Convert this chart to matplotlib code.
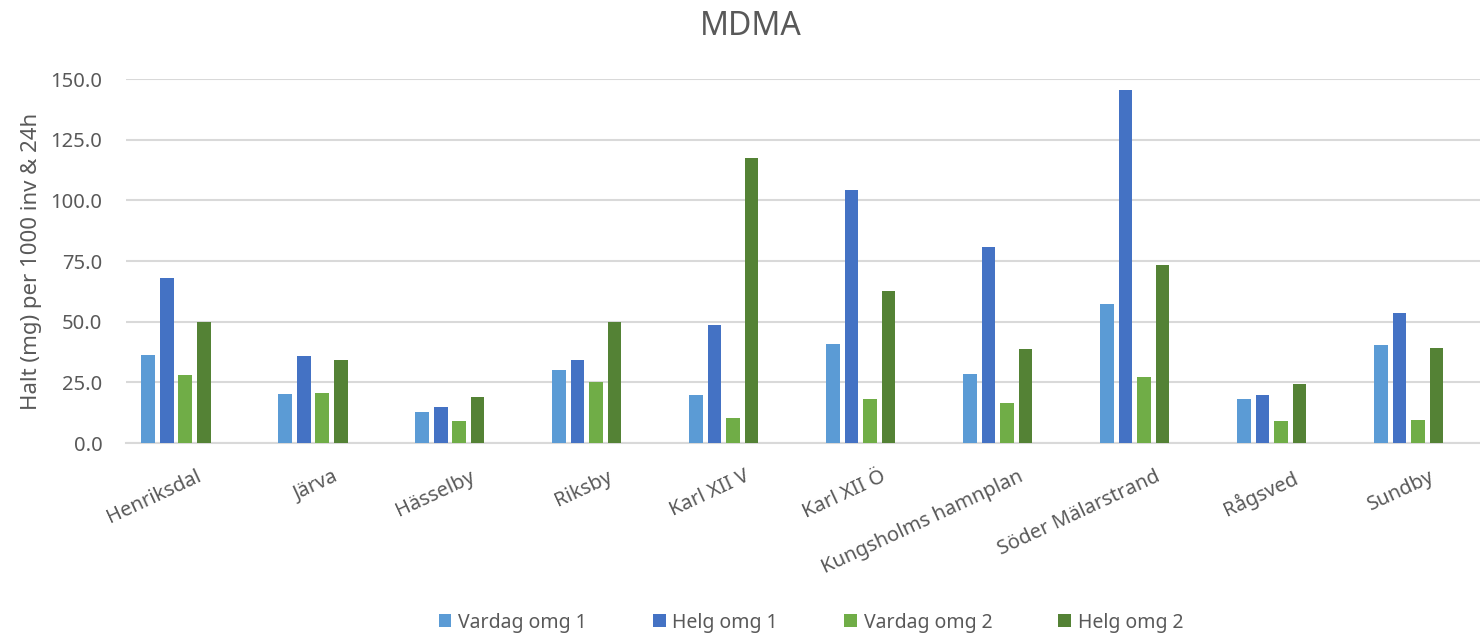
import numpy as np
import matplotlib
matplotlib.use('Agg')
import matplotlib.pyplot as plt
from matplotlib.transforms import ScaledTranslation

plt.rcParams['font.family'] = ['Noto Sans', 'DejaVu Sans']

stations = ['Henriksdal', 'Järva', 'Hässelby', 'Riksby', 'Karl XII V',
            'Karl XII Ö', 'Kungsholms hamnplan', 'Söder Mälarstrand',
            'Rågsved', 'Sundby']
series_names = ['Vardag omg 1', 'Helg omg 1', 'Vardag omg 2', 'Helg omg 2']
vardag1 = [36.4, 20.2, 12.8, 30.2, 19.6, 40.8, 28.6, 57.1, 18.0, 40.2]
helg1 = [68.2, 36.0, 14.8, 34.3, 48.6, 104.1, 80.9, 145.4, 19.6, 53.4]
vardag2 = [28.1, 20.6, 9.1, 25.0, 10.5, 18.0, 16.5, 27.4, 9.1, 9.5]
helg2 = [49.7, 34.3, 19.0, 49.7, 117.3, 62.5, 38.6, 73.5, 24.4, 39.1]
colors = ['#5B9BD5', '#4472C4', '#70AD47', '#548235']
text_col = '#595959'

fig = plt.figure(figsize=(14.8, 6.38), dpi=100)
ax = fig.add_axes([0.0851, 0.3056, 0.9149, 0.5705])

x = np.arange(len(stations))
step = 0.135
width = 0.10
for i, (vals, name) in enumerate(zip([vardag1, helg1, vardag2, helg2], series_names)):
    ax.bar(x + (i - 1.5) * step, vals, width, color=colors[i], label=name, zorder=3)

ax.set_xlim(-0.365, 9.52)
ax.set_ylim(0, 150)
ax.set_yticks(np.arange(0, 151, 25))
ax.set_yticklabels([f'{v:.1f}' for v in np.arange(0, 151, 25)])
ax.yaxis.grid(True, color='#D9D9D9', linewidth=1.5, zorder=0)
for s in ['top', 'right', 'left']:
    ax.spines[s].set_visible(False)
ax.spines['bottom'].set_color('#D9D9D9')
ax.spines['bottom'].set_linewidth(1.5)
ax.tick_params(axis='both', length=0, colors=text_col, labelsize=14.5)
ax.tick_params(axis='y', pad=17)
ax.set_xticks(x)
ax.set_xticklabels(stations, rotation=25, ha='right', rotation_mode='anchor')
ax.tick_params(axis='x', pad=17)
# Excel puts the end of each rotated label a bit to the right of the tick
shift = ScaledTranslation(0.2, 0, fig.dpi_scale_trans)
for lab in ax.get_xticklabels():
    lab.set_transform(lab.get_transform() + shift)
ax.set_ylabel('Halt (mg) per 1000 inv & 24h', fontsize=16, color=text_col, labelpad=6)

fig.text(0.507, 0.958, 'MDMA', fontsize=23, color=text_col, ha='center', va='center')

fig.legend(*ax.get_legend_handles_labels(), loc='center', bbox_to_anchor=(0.548, 0.024),
           ncol=4, frameon=False, fontsize=14, handlelength=0.65, handleheight=0.65,
           columnspacing=3.4, handletextpad=0.35, labelcolor=text_col)

fig.savefig('out.png', dpi=100)
